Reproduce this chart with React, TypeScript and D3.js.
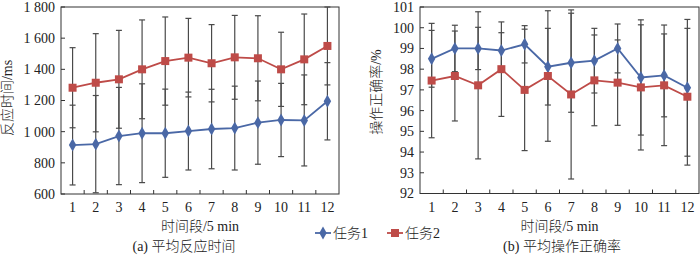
import React from "react";
import * as d3 from "d3";

const periods = ["1", "2", "3", "4", "5", "6", "7", "8", "9", "10", "11", "12"];
const seriesNames = ["任务1", "任务2"];

// (a) 平均反应时间 (ms)
const rtTask1 = [914, 920, 972, 990, 990, 1004, 1017, 1023, 1058, 1075, 1072, 1195];
const rtTask1Sd = [256, 312, 312, 317, 283, 250, 255, 269, 267, 235, 292, 248];
const rtTask2 = [1282, 1314, 1336, 1400, 1453, 1475, 1439, 1477, 1471, 1400, 1464, 1550];
const rtTask2Sd = [257, 315, 314, 317, 283, 252, 248, 269, 273, 238, 291, 250];
const rtTicks = [600, 800, 1000, 1200, 1400, 1600, 1800];

// (b) 平均操作正确率 (%)
const accTask1 = [98.5, 99.0, 99.0, 98.9, 99.2, 98.12, 98.31, 98.41, 99.0, 97.6, 97.7, 97.1];
const accTask1Sd = [1.37, 1.12, 1.02, 0.86, 0.9, 1.85, 2.39, 1.56, 1.18, 2.78, 2.0, 3.3];
const accTask2 = [97.45, 97.67, 97.22, 98.0, 97.0, 97.67, 96.78, 97.46, 97.35, 97.12, 97.22, 96.67];
const accTask2Sd = [2.76, 2.17, 3.55, 2.28, 2.93, 3.15, 4.08, 2.19, 2.06, 3.02, 2.91, 3.3];
const accTicks = [92, 93, 94, 95, 96, 97, 98, 99, 100, 101];

const BLUE = "#4a68a6";
const RED = "#be4b48";
const AXIS = "#333";
const ERR = "#4a4a4a";
const FONT = "'Liberation Serif', 'Noto Sans CJK SC', serif";

const fmtThousands = (v: number) => {
  const s = String(v);
  return s.length > 3 ? s.slice(0, s.length - 3) + " " + s.slice(s.length - 3) : s;
};

type PanelProps = {
  x0: number;
  x1: number;
  yTop: number;
  yBottom: number;
  domain: [number, number];
  ticks: number[];
  fmt: (v: number) => string;
  s1: number[];
  s1sd: number[];
  s2: number[];
  s2sd: number[];
  yTitle: string;
  yTitleX: number;
  yTitleY: number;
  subtitle: string;
  subtitleX: number;
};

function Panel(p: PanelProps) {
  const x = d3.scaleBand<string>().domain(periods).range([p.x0, p.x1]);
  const y = d3.scaleLinear().domain(p.domain).range([p.yBottom, p.yTop]);
  const cx = (i: number) => (x(periods[i]) as number) + x.bandwidth() / 2;
  const line = d3
    .line<number>()
    .x((_, i) => cx(i))
    .y((d) => y(d));
  const cap = 3;
  const errBars = (vals: number[], sds: number[], key: string) =>
    vals.map((v, i) => {
      const xi = cx(i);
      const hi = y(v + sds[i]);
      const lo = y(v - sds[i]);
      return (
        <g key={key + i} stroke={ERR} strokeWidth={1.2}>
          <line x1={xi} x2={xi} y1={hi} y2={lo} />
          <line x1={xi - cap} x2={xi + cap} y1={hi} y2={hi} />
          <line x1={xi - cap} x2={xi + cap} y1={lo} y2={lo} />
        </g>
      );
    });
  const diamond = d3.symbol(d3.symbolDiamond, 48);
  const midX = (p.x0 + p.x1) / 2;
  return (
    <g fontFamily={FONT} fontSize={14} fontWeight={300} fill="#222">
      <rect
        x={p.x0}
        y={p.yTop}
        width={p.x1 - p.x0}
        height={p.yBottom - p.yTop}
        fill="none"
        stroke={AXIS}
        strokeWidth={1}
      />
      {p.ticks.map((t) => (
        <g key={"yt" + t}>
          <line x1={p.x0} x2={p.x0 + 4} y1={y(t)} y2={y(t)} stroke={AXIS} />
          <text x={p.x0 - 6} y={y(t)} dy="0.35em" textAnchor="end">
            {p.fmt(t)}
          </text>
        </g>
      ))}
      {periods.slice(1).map((c) => (
        <line
          key={"xt" + c}
          x1={x(c) as number}
          x2={x(c) as number}
          y1={p.yBottom}
          y2={p.yBottom - 4}
          stroke={AXIS}
        />
      ))}
      {periods.map((c, i) => (
        <text key={"xl" + c} x={cx(i)} y={212} textAnchor="middle">
          {c}
        </text>
      ))}
      {errBars(p.s1, p.s1sd, "e1")}
      {errBars(p.s2, p.s2sd, "e2")}
      <path d={line(p.s1) as string} fill="none" stroke={BLUE} strokeWidth={1.8} />
      <path d={line(p.s2) as string} fill="none" stroke={RED} strokeWidth={1.8} />
      {p.s1.map((v, i) => (
        <path
          key={"m1" + i}
          d={diamond() as string}
          transform={`translate(${cx(i)},${y(v)})`}
          fill={BLUE}
        />
      ))}
      {p.s2.map((v, i) => (
        <rect key={"m2" + i} x={cx(i) - 4} y={y(v) - 4} width={8} height={8} fill={RED} />
      ))}
      <text x={midX} y={231} textAnchor="middle">
        时间段/5 min
      </text>
      <text x={p.subtitleX} y={251} textAnchor="middle">
        {p.subtitle}
      </text>
      <text
        transform={`translate(${p.yTitleX},${p.yTitleY}) rotate(-90)`}
        textAnchor="middle"
        dy="0.35em"
      >
        {p.yTitle}
      </text>
    </g>
  );
}

export default function App() {
  const diamond = d3.symbol(d3.symbolDiamond, 48);
  return (
    <svg
      width={700}
      height={255}
      style={{ position: "absolute", left: 0, top: 0, background: "#fff" }}
    >
      <rect x={0} y={0} width={700} height={255} fill="#fff" />
      <Panel
        x0={61}
        x1={339}
        yTop={7}
        yBottom={194}
        domain={[600, 1800]}
        ticks={rtTicks}
        fmt={fmtThousands}
        s1={rtTask1}
        s1sd={rtTask1Sd}
        s2={rtTask2}
        s2sd={rtTask2Sd}
        yTitle="反应时间/ms"
        yTitleX={7}
        yTitleY={98}
        subtitle="(a) 平均反应时间"
        subtitleX={184}
      />
      <Panel
        x0={420}
        x1={699}
        yTop={7}
        yBottom={193.5}
        domain={[92, 101]}
        ticks={accTicks}
        fmt={(v) => String(v)}
        s1={accTask1}
        s1sd={accTask1Sd}
        s2={accTask2}
        s2sd={accTask2Sd}
        yTitle="操作正确率/%"
        yTitleX={376}
        yTitleY={92}
        subtitle="(b) 平均操作正确率"
        subtitleX={562}
      />
      <g fontFamily={FONT} fontSize={14} fontWeight={300} fill="#222">
        <line x1={315} x2={331} y1={233} y2={233} stroke={BLUE} strokeWidth={1.8} />
        <path d={diamond() as string} transform="translate(323,233)" fill={BLUE} />
        <text x={333} y={238}>
          {seriesNames[0]}
        </text>
        <line x1={387} x2={403} y1={233} y2={233} stroke={RED} strokeWidth={1.8} />
        <rect x={391} y={229} width={8} height={8} fill={RED} />
        <text x={405} y={238}>
          {seriesNames[1]}
        </text>
      </g>
    </svg>
  );
}
